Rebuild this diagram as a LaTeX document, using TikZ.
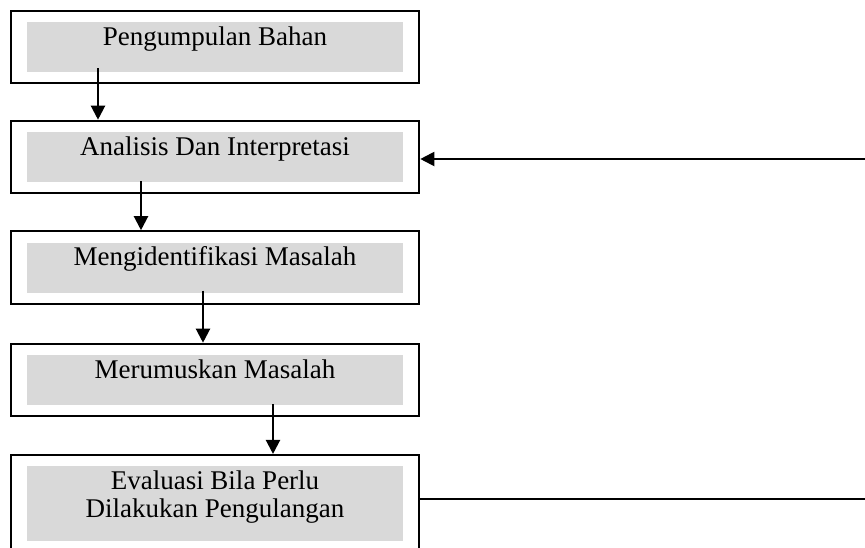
\documentclass[tikz,border=0pt]{standalone}
\usepackage{fontspec}
\setmainfont{Liberation Serif}
\usetikzlibrary{fit,arrows.meta}
\definecolor{isiabu}{HTML}{D9D9D9}
\begin{document}
\begin{tikzpicture}[x=1pt,y=-1pt,
  isi/.style={fill=isiabu, minimum width=376pt, inner xsep=0pt, inner ysep=4pt,
    text height=19pt, text depth=23pt, align=center,
    font=\fontsize{27}{28.5}\selectfont},
  kotak/.style={draw, line width=2.2pt, inner xsep=16pt, inner ysep=11pt},
  panah/.style={line width=2.2pt, -{Triangle[width=14pt,length=14pt]}}]

\useasboundingbox (0,0) rectangle (865,547);
\clip (0,0) rectangle (865,547);

% isi tiap kotak
\node[isi] (g1) at (215,47) {Pengumpulan Bahan};
\node[isi] (g2) at (215,157) {Analisis Dan Interpretasi};
\node[isi] (g3) at (215,267.5) {Mengidentifikasi Masalah};
\node[isi] (g4) at (215,380) {Merumuskan Masalah};
\node[isi, text height=47.5pt, text depth=19pt] (g5) at (215,503.5) {Evaluasi Bila Perlu\\Dilakukan Pengulangan};

% bingkai
\node[kotak, fit=(g1)] (b1) {};
\node[kotak, fit=(g2)] (b2) {};
\node[kotak, fit=(g3)] (b3) {};
\node[kotak, fit=(g4)] (b4) {};
\node[kotak, fit=(g5)] (b5) {};

% panah ke bawah
\draw[panah] ([xshift=-117pt,yshift=4pt]g1.south) -- ([xshift=-117pt]b2.north);
\draw[panah] ([xshift=-74pt,yshift=1pt]g2.south) -- ([xshift=-74pt]b3.north);
\draw[panah] ([xshift=-12pt,yshift=2pt]g3.south) -- ([xshift=-12pt]b4.north);
\draw[panah] ([xshift=58pt,yshift=1pt]g4.south) -- ([xshift=58pt]b5.north);

% umpan balik
\coordinate (r5) at (865,499);
\coordinate (r2) at (865,159);
\draw[line width=1.8pt] (b5.east |- r5) -- (r5);
\draw[panah, line width=2pt] (r2) -- (r2 -| b2.east);
\end{tikzpicture}
\end{document}
